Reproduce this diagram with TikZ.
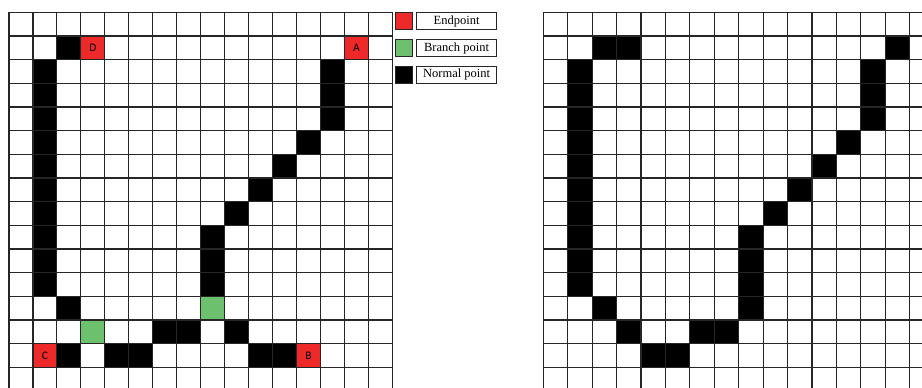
\documentclass[tikz,border=0pt]{standalone}
\usepackage{fontspec}
\setmainfont{Liberation Serif}
\newfontfamily\letterfont{Carlito}
\usetikzlibrary{positioning}
\definecolor{endred}{RGB}{237,41,41}
\definecolor{branchgreen}{RGB}{108,192,110}

\begin{document}
\begin{tikzpicture}[
			x = 1pt, y = -1pt,
			gridline/.style = {draw=black!85, line width=1.1pt},
			ptlabel/.style = {font=\letterfont\fontsize{11.5}{11.5}\selectfont, inner sep=0pt},
			keybox/.style = {draw=black!85, line width=1pt, minimum width=17pt, minimum height=17pt, inner sep=0pt},
			keytext/.style = {draw=black!85, line width=1pt, minimum width=80pt, minimum height=17pt, inner sep=0pt, font=\fontsize{12.5}{12.5}\selectfont}
			]
			
			\useasboundingbox (0,0) rectangle (922,388);
			
			% Define left grid (marked points)
			\begin{scope}[shift={(9,12.3)}, x=23.96pt, y=-23.67pt]
				\foreach \c/\r in {2/1, 13/2, 13/3, 13/4, 12/5, 11/6, 10/7, 9/8, 8/9, 8/10, 8/11,
					2/12, 6/13, 7/13, 9/13, 2/14, 4/14, 5/14, 10/14, 11/14}
					\fill[black] (\c,\r) rectangle ++(1,1);
				\foreach \r in {2,...,11}
					\fill[black] (1,\r) rectangle ++(1,1);
				\foreach \c/\r in {3/1, 14/1, 1/14, 12/14}
					\fill[endred] (\c,\r) rectangle ++(1,1);
				\foreach \c/\r in {8/12, 3/13}
					\fill[branchgreen] (\c,\r) rectangle ++(1,1);
				\foreach \c in {0,...,16}
					\draw[gridline] (\c,0) -- (\c,16.5);
				\foreach \r in {0,...,16}
					\draw[gridline] (0,\r) -- (16,\r);
				\node[ptlabel] (ptD) at (3.5,1.5) {D};
				\node[ptlabel] (ptA) at (14.5,1.5) {A};
				\node[ptlabel] (ptC) at (1.5,14.5) {C};
				\node[ptlabel] (ptB) at (12.5,14.5) {B};
			\end{scope}
			
			% Define legend
			\node[keybox, fill=endred] (endkey) at (403.7,21.4) {};
			\node[keytext, right=3.4pt of endkey] (endtext) {Endpoint};
			\node[keybox, fill=branchgreen, below=8.7pt of endkey] (branchkey) {};
			\node[keytext, right=3.4pt of branchkey] (branchtext) {Branch point};
			\node[keybox, fill=black, below=8.7pt of branchkey] (normalkey) {};
			\node[keytext, right=3.4pt of normalkey] (normaltext) {Normal point};
			
			% Define right grid (plain skeleton)
			\begin{scope}[shift={(543.3,12.3)}, x=24.43pt, y=-23.67pt]
				\foreach \c/\r in {2/1, 3/1, 14/1, 13/2, 13/3, 13/4, 12/5, 11/6, 10/7, 9/8,
					8/9, 8/10, 8/11, 8/12, 2/12, 3/13, 6/13, 7/13, 4/14, 5/14}
					\fill[black] (\c,\r) rectangle ++(1,1);
				\foreach \r in {2,...,11}
					\fill[black] (1,\r) rectangle ++(1,1);
				\foreach \c in {0,...,16}
					\draw[gridline] (\c,0) -- (\c,16.5);
				\foreach \r in {0,...,16}
					\draw[gridline] (0,\r) -- (16,\r);
			\end{scope}
			
		\end{tikzpicture}
\end{document}
